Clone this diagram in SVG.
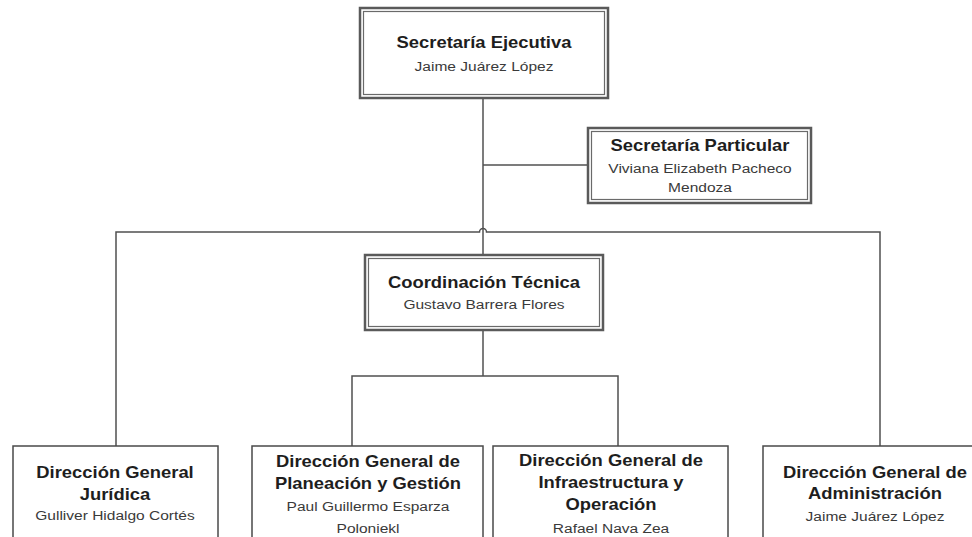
<svg xmlns="http://www.w3.org/2000/svg" width="972" height="537" viewBox="0 0 972 537">
<style>
.t{font-family:"Liberation Sans",Arial,sans-serif;font-size:16px;font-weight:bold;fill:#1e1e1e;text-anchor:middle}
.n{font-family:"Liberation Sans",Arial,sans-serif;font-size:13.5px;fill:#3a3a3a;text-anchor:middle}
.ob{fill:#fff;stroke:#5a5a5a;stroke-width:2.5}
.ib{fill:none;stroke:#6a6a6a;stroke-width:1.2}
.sb{fill:#fff;stroke:#4a4a4a;stroke-width:1.5}
.c{fill:none;stroke:#505050;stroke-width:1.5}
</style>
<rect width="972" height="537" fill="#fff"/>
<g id="connectors">
<path class="c" d="M483,98 V255"/>
<path class="c" d="M483,165 H588"/>
<path class="c" d="M116,446 V232 H479.5 A3.5,3.5 0 0 1 486.5,232 H880 V446"/>
<path class="c" d="M483,330 V376"/>
<path class="c" d="M352,446 V376 H618 V446"/>
</g>
<g id="secretaria-ejecutiva">
<rect class="ob" x="360" y="8" width="248" height="90"/>
<rect class="ib" x="363.5" y="11.5" width="241" height="83"/>
<text class="t" transform="translate(484,0) scale(1.15,1)" y="48">Secretaría Ejecutiva</text>
<text class="n" transform="translate(484,0) scale(1.15,1)" y="71">Jaime Juárez López</text>
</g>
<g id="secretaria-particular">
<rect class="ob" x="588" y="128" width="223" height="75"/>
<rect class="ib" x="591.5" y="131.5" width="216" height="68"/>
<text class="t" transform="translate(700,0) scale(1.15,1)" y="151">Secretaría Particular</text>
<text class="n" transform="translate(700,0) scale(1.15,1)" y="173">Viviana Elizabeth Pacheco</text>
<text class="n" transform="translate(700,0) scale(1.15,1)" y="192">Mendoza</text>
</g>
<g id="coordinacion-tecnica">
<rect class="ob" x="365" y="255" width="238" height="75"/>
<rect class="ib" x="368.5" y="258.5" width="231" height="68"/>
<text class="t" transform="translate(484,0) scale(1.15,1)" y="288">Coordinación Técnica</text>
<text class="n" transform="translate(484,0) scale(1.15,1)" y="309">Gustavo Barrera Flores</text>
</g>
<g id="dg-juridica">
<rect class="sb" x="13" y="446" width="205" height="110"/>
<text class="t" transform="translate(115,0) scale(1.15,1)" y="478">Dirección General</text>
<text class="t" transform="translate(115,0) scale(1.15,1)" y="500">Jurídica</text>
<text class="n" transform="translate(115,0) scale(1.15,1)" y="520">Gulliver Hidalgo Cortés</text>
</g>
<g id="dg-planeacion">
<rect class="sb" x="252" y="446" width="231" height="110"/>
<text class="t" transform="translate(368,0) scale(1.15,1)" y="467">Dirección General de</text>
<text class="t" transform="translate(368,0) scale(1.15,1)" y="489">Planeación y Gestión</text>
<text class="n" transform="translate(368,0) scale(1.15,1)" y="511">Paul Guillermo Esparza</text>
<text class="n" transform="translate(368,0) scale(1.15,1)" y="533">Poloniekl</text>
</g>
<g id="dg-infraestructura">
<rect class="sb" x="493" y="446" width="235" height="110"/>
<text class="t" transform="translate(611,0) scale(1.15,1)" y="466">Dirección General de</text>
<text class="t" transform="translate(611,0) scale(1.15,1)" y="488">Infraestructura y</text>
<text class="t" transform="translate(611,0) scale(1.15,1)" y="510">Operación</text>
<text class="n" transform="translate(611,0) scale(1.15,1)" y="533">Rafael Nava Zea</text>
</g>
<g id="dg-administracion">
<rect class="sb" x="763" y="446" width="225" height="110"/>
<text class="t" transform="translate(875,0) scale(1.15,1)" y="478">Dirección General de</text>
<text class="t" transform="translate(875,0) scale(1.15,1)" y="499">Administración</text>
<text class="n" transform="translate(875,0) scale(1.15,1)" y="521">Jaime Juárez López</text>
</g>
</svg>
